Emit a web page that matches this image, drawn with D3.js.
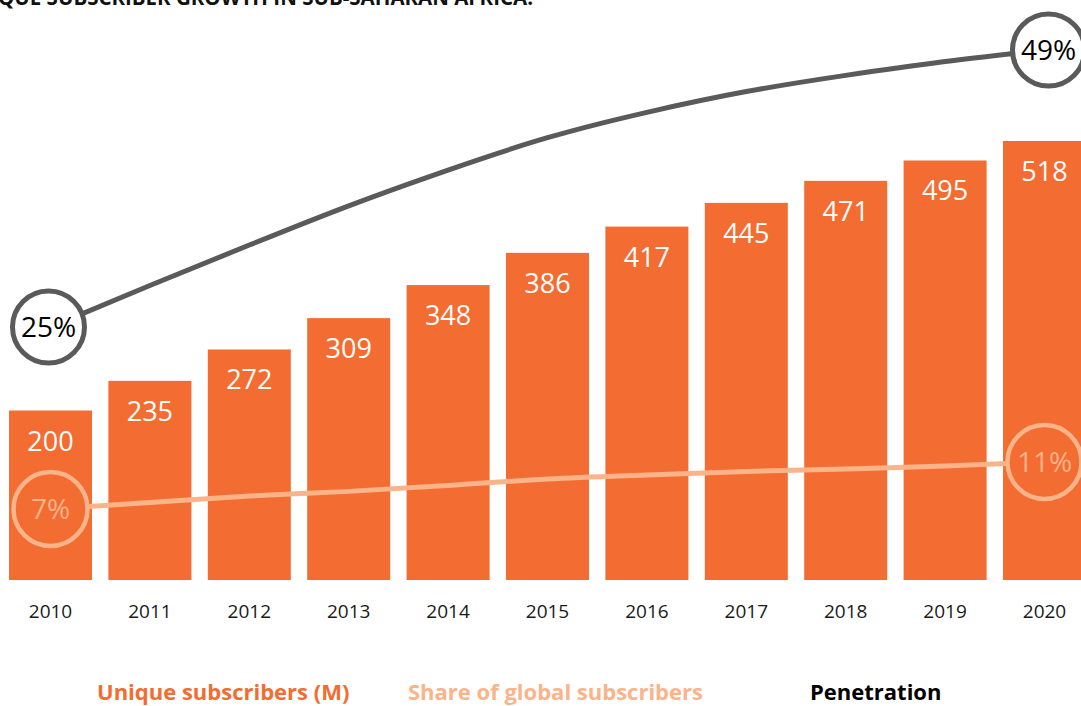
<!DOCTYPE html>
<html>
<head>
<meta charset="utf-8">
<script src="https://cdn.jsdelivr.net/npm/d3@7"></script>
<style>
  html, body { margin: 0; padding: 0; background: #fff; }
  svg { display: block; font-family: "Open Sans", "Noto Sans", sans-serif; }
</style>
</head>
<body>
<svg id="chart" width="1081" height="706"></svg>
<script>
const years = [2010, 2011, 2012, 2013, 2014, 2015, 2016, 2017, 2018, 2019, 2020];
const subscribers = [200, 235, 272, 309, 348, 386, 417, 445, 471, 495, 518];
const penetration = [25, 28.6, 32.1, 35.5, 38.6, 41.4, 43.6, 45.4, 46.8, 48.0, 49];
const share = [7, 7.55, 8.1, 8.5, 9.0, 9.55, 9.9, 10.2, 10.4, 10.65, 11];
const legendLabels = ["Unique subscribers (M)", "Share of global subscribers", "Penetration"];
const titleText = "UNIQUE SUBSCRIBER GROWTH IN SUB-SAHARAN AFRICA:";

const BAR = "#F36C31", SHARE = "#FBB38A", PEN = "#5A5A5A";

const svg = d3.select("#chart");

const x = d3.scaleBand().domain(years).range([9, 1086]).paddingInner(0.165).paddingOuter(0);
const yBar = d3.scaleLinear().domain([0, 518]).range([580, 141]);
const yPen = d3.scaleLinear().domain([25, 49]).range([327, 50]);
const yShare = d3.scaleLinear().domain([7, 11]).range([509, 462]);
const cx = d => x(d) + x.bandwidth() / 2;

// title (cut at top, as in the source)
svg.append("text").attr("x", 533).attr("y", 5).attr("text-anchor", "end")
  .attr("font-size", 20.5).attr("font-weight", 700).attr("fill", "#111").text(titleText);

// bars
const data = years.map((yr, i) => ({ yr, v: subscribers[i], p: penetration[i], s: share[i] }));
svg.append("g").selectAll("rect").data(data).join("rect")
  .attr("x", d => x(d.yr)).attr("width", x.bandwidth())
  .attr("y", d => yBar(d.v)).attr("height", d => yBar(0) - yBar(d.v))
  .attr("fill", BAR);

svg.append("g").selectAll("text").data(data).join("text")
  .attr("x", d => cx(d.yr)).attr("y", d => yBar(d.v) + 40)
  .attr("text-anchor", "middle").attr("font-size", 27).attr("fill", "#fff")
  .text(d => d.v);

// x axis labels
const xAxis = d3.axisBottom(x).tickSize(0).tickPadding(0);
const gx = svg.append("g").attr("transform", "translate(0,600)").call(xAxis);
gx.select(".domain").remove();
gx.selectAll("text").attr("font-size", 19).attr("fill", "#1a1a1a")
  .attr("font-family", "'Open Sans', sans-serif").attr("dy", "0.97em");

// share line
const shareLine = d3.line().x(d => cx(d.yr)).y(d => yShare(d.s)).curve(d3.curveMonotoneX);
svg.append("path").datum(data).attr("d", shareLine)
  .attr("fill", "none").attr("stroke", SHARE).attr("stroke-width", 5);

// penetration line
const penLine = d3.line().x(d => cx(d.yr)).y(d => yPen(d.p)).curve(d3.curveNatural);
svg.append("path").datum(data).attr("d", penLine)
  .attr("fill", "none").attr("stroke", PEN).attr("stroke-width", 5);

// end circles
const ends = [data[0], data[data.length - 1]];
const pc = svg.append("g").selectAll("g").data(ends).join("g")
  .attr("transform", (d, i) => `translate(${cx(d.yr) + (i ? 4 : -2)},${yPen(d.p)})`);
pc.append("circle").attr("r", 36).attr("fill", "#fff").attr("stroke", PEN).attr("stroke-width", 5);
pc.append("text").attr("y", 10).attr("text-anchor", "middle").attr("font-size", 28)
  .attr("fill", "#000").text(d => d.p + "%");

const sc = svg.append("g").selectAll("g").data(ends).join("g")
  .attr("transform", d => `translate(${cx(d.yr)},${yShare(d.s)})`);
sc.append("circle").attr("r", 37).attr("fill", BAR).attr("stroke", SHARE).attr("stroke-width", 4.5);
sc.append("text").attr("y", 10).attr("text-anchor", "middle").attr("font-size", 28)
  .attr("fill", SHARE).text(d => d.s + "%");

// legend
const legendX = [97, 408, 810];
const legendC = [BAR, SHARE, "#000"];
svg.append("g").selectAll("text").data(legendLabels).join("text")
  .attr("x", (d, i) => legendX[i]).attr("y", 700)
  .attr("font-size", 22).attr("font-weight", 700)
  .attr("fill", (d, i) => legendC[i]).text(d => d);
</script>
</body>
</html>
